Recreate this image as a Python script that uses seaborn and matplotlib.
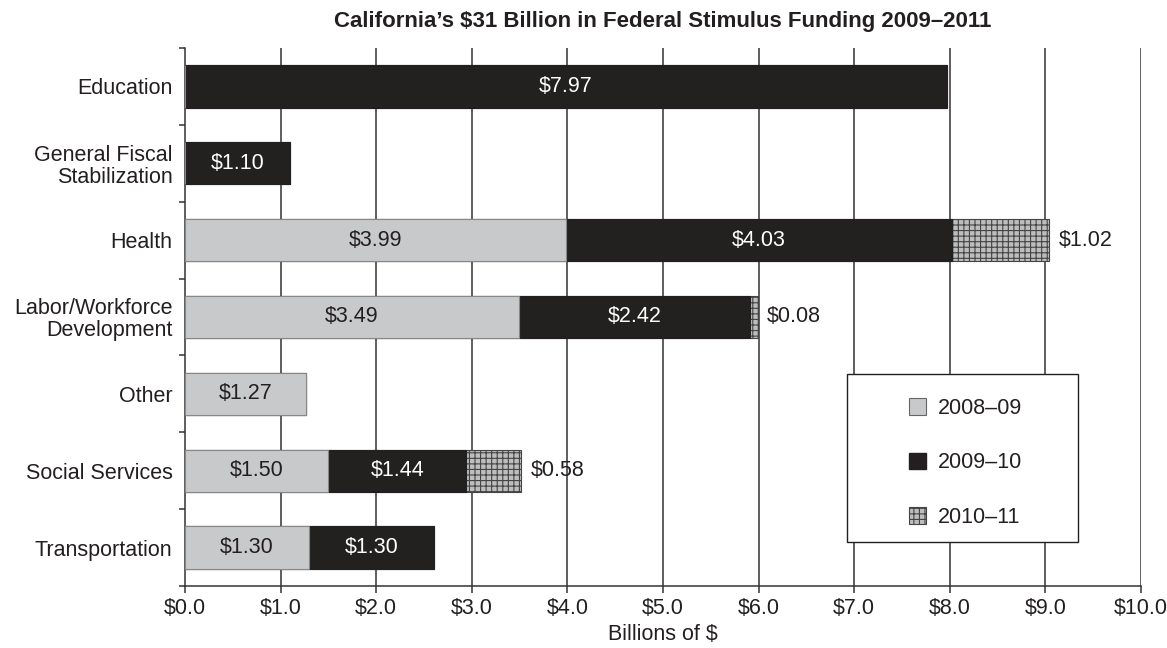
import matplotlib
matplotlib.use("Agg")
import matplotlib.pyplot as plt
from matplotlib.patches import Patch, Rectangle
import seaborn as sns
import pandas as pd
import numpy as np

categories = ["Education", "General Fiscal\nStabilization", "Health",
              "Labor/Workforce\nDevelopment", "Other", "Social Services", "Transportation"]
s2008_09 = [0.0, 0.0, 3.99, 3.49, 1.27, 1.50, 1.30]
s2009_10 = [7.97, 1.10, 4.03, 2.42, 0.0, 1.44, 1.30]
s2010_11 = [0.0, 0.0, 1.02, 0.08, 0.0, 0.58, 0.0]
series_names = ["2008\u201309", "2009\u201310", "2010\u201311"]
xticks = [0, 1, 2, 3, 4, 5, 6, 7, 8, 9, 10]
xtick_labels = ["$%.1f" % v for v in xticks]

sns.set_style("white")
plt.rcParams["font.family"] = ["Liberation Sans", "DejaVu Sans"]

FS = 15.5
TXT = "#231f20"
LIGHT = "#c8c9cb"
DARK = "#231f20"
HATCHFC = "#bdbdbd"
plt.rcParams["hatch.color"] = "#6a6a6a"
plt.rcParams["hatch.linewidth"] = 0.8

df = pd.DataFrame({"cat": categories, "a": s2008_09, "b": s2009_10, "c": s2010_11})
df["ab"] = df["a"] + df["b"]
df["abc"] = df["ab"] + df["c"]

fig = plt.figure(figsize=(11.67, 6.48), dpi=100)
ax = fig.add_axes([0.1585, 0.0957, 0.8192, 0.8303])

bar_h = 0.55
sns.barplot(data=df, y="cat", x="abc", orient="h", color=HATCHFC, width=bar_h,
            edgecolor="#444444", linewidth=0.8, hatch="+++", ax=ax, zorder=3)
sns.barplot(data=df, y="cat", x="ab", orient="h", color=DARK, width=bar_h,
            edgecolor=DARK, linewidth=0.8, ax=ax, zorder=4)
sns.barplot(data=df, y="cat", x="a", orient="h", color=LIGHT, width=bar_h,
            edgecolor="#888888", linewidth=0.8, ax=ax, zorder=5)

# value labels
for i in range(len(categories)):
    a, b, c = s2008_09[i], s2009_10[i], s2010_11[i]
    if a > 0:
        ax.text(a / 2, i, "$%.2f" % a, ha="center", va="center", fontsize=FS,
                color=TXT, zorder=6)
    if b > 0:
        ax.text(a + b / 2, i, "$%.2f" % b, ha="center", va="center", fontsize=FS,
                color="white", zorder=6)
    if c > 0:
        ax.text(a + b + c + 0.1, i, "$%.2f" % c, ha="left", va="center", fontsize=FS,
                color=TXT, zorder=6)

ax.set_xlim(0, 10)
ax.set_ylim(6.5, -0.5)
ax.set_xticks(xticks)
ax.set_xticklabels(xtick_labels, fontsize=FS, color=TXT)
for xv in xticks[1:]:
    ax.axvline(xv, color="#333333", linewidth=1.1, zorder=1)

ax.set_yticks(range(len(categories)))
ax.set_yticklabels(categories, fontsize=FS, color=TXT, linespacing=1.05)
ax.set_yticks(np.arange(-0.5, len(categories), 1.0), minor=True)
ax.tick_params(axis="y", which="major", left=False, length=0, pad=9)
ax.tick_params(axis="y", which="minor", left=True, length=4.5, width=1.1,
               color="#333333", direction="out")
ax.tick_params(axis="x", which="major", bottom=True, length=5, width=1.1,
               color="#333333", direction="out", pad=3.5)

for side in ["top", "right"]:
    ax.spines[side].set_visible(False)
for side in ["left", "bottom"]:
    ax.spines[side].set_color("#333333")
    ax.spines[side].set_linewidth(1.1)

ax.set_xlabel("Billions of $", fontsize=FS, color=TXT, labelpad=4)
ax.set_ylabel("")
ax.set_title("California\u2019s $31 Billion in Federal Stimulus Funding 2009\u20132011",
             fontsize=16, fontweight="bold", color=TXT, pad=15)

# legend box
box = Rectangle((0.6925, 0.0818), 0.934 - 0.6925, 0.394 - 0.0818,
                transform=ax.transAxes, facecolor="white", edgecolor=TXT,
                linewidth=1.0, zorder=9)
ax.add_patch(box)
handles = [Patch(facecolor=LIGHT, edgecolor="#666666", linewidth=0.8),
           Patch(facecolor=DARK, edgecolor=DARK),
           Patch(facecolor=HATCHFC, edgecolor="#444444", hatch="+++", linewidth=0.8)]
leg = ax.legend(handles, series_names, loc="center",
                bbox_to_anchor=(0.8164, 0.2286), fontsize=FS, frameon=False,
                labelspacing=1.55, borderpad=0, handlelength=0.8, handleheight=0.8,
                handletextpad=0.55, borderaxespad=0)
leg.set_zorder(10)
for t in leg.get_texts():
    t.set_color(TXT)

fig.savefig("out.png", dpi=100)
